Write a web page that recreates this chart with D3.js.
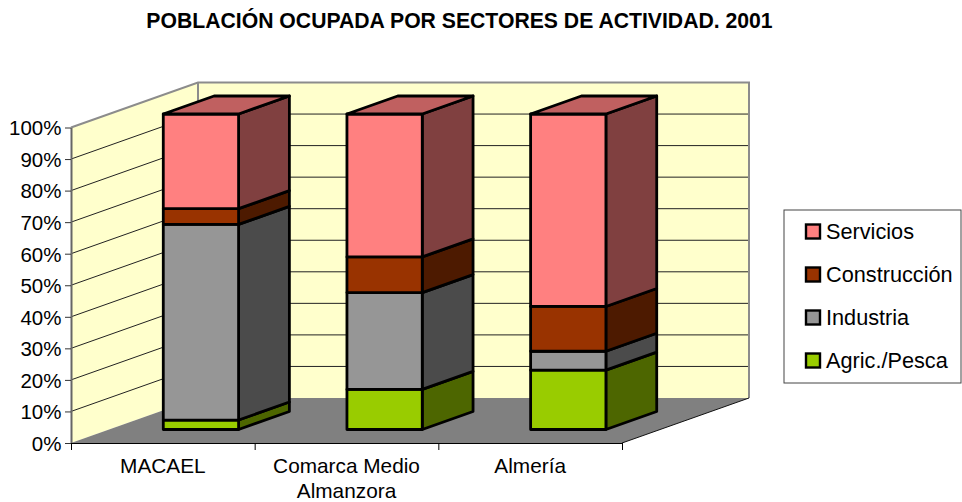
<!DOCTYPE html>
<html>
<head>
<meta charset="utf-8">
<script src="https://cdn.jsdelivr.net/npm/d3@7"></script>
<style>
body { margin: 0; background: #fff; }
text { font-family: "Liberation Sans", Arial, sans-serif; fill: #000; }
</style>
</head>
<body>
<script>
var categories = ["MACAEL", "Comarca Medio Almanzora", "Almería"];
var seriesNames = ["Agric./Pesca", "Industria", "Construcción", "Servicios"];
var agricPesca = [3, 12.7, 18.8];
var industria = [62, 30.7, 6];
var construccion = [5, 11.3, 14.2];
var servicios = [30, 45.3, 61];
var yTicks = [0, 10, 20, 30, 40, 50, 60, 70, 80, 90, 100];

var frontColors = ["#99cc00", "#969696", "#993300", "#ff8080"];
var sideColors = ["#4d6600", "#4b4b4b", "#4d1a00", "#804040"];
var topColor = "#c06060";

var w = 962, h = 502,
x0 = 71, x1 = 622, yBase = 443, yTop = 127.5,
depthX = 127, depthY = -45,
barFront = 0.3, barBack = 0.7;

var rows = categories.map(function(c, i) {
	return {cat: c, "Agric./Pesca": agricPesca[i], "Industria": industria[i], "Construcción": construccion[i], "Servicios": servicios[i]};
});
var stacked = d3.stack().keys(seriesNames)(rows);

var xSc = d3.scaleBand().domain(categories).range([x0, x1]).paddingInner(0.59).paddingOuter(0.295);
var xLine = d3.scaleLinear().domain([0, categories.length]).range([x0, x1]);
var ySc = d3.scaleLinear().domain([0, 100]).range([yBase, yTop]);

function pts(a) { return a.map(function(p) { return p.join(","); }).join(" "); }

var svg = d3.select("body").append("svg").attr("width", w).attr("height", h);

svg.append("text").attr("x", 459.5).attr("y", 27.5)
	.attr("text-anchor", "middle")
	.attr("font-weight", "bold")
	.attr("font-size", "21.2px")
	.text("POBLACIÓN OCUPADA POR SECTORES DE ACTIVIDAD. 2001");

// walls and floor
svg.append("polygon").attr("fill", "#ffffcc")
	.attr("points", pts([[x0, yBase], [x0, yTop], [x0 + depthX, yTop + depthY], [x0 + depthX, yBase + depthY]]));
svg.append("polygon").attr("fill", "#ffffcc")
	.attr("points", pts([[x0 + depthX, yTop + depthY], [x1 + depthX, yTop + depthY], [x1 + depthX, yBase + depthY], [x0 + depthX, yBase + depthY]]));
svg.append("polygon").attr("fill", "#808080")
	.attr("points", pts([[x0, yBase], [x0 + depthX, yBase + depthY], [x1 + depthX, yBase + depthY], [x1, yBase]]));

// gridlines
var grid = svg.append("g").attr("fill", "none").attr("stroke", "#222").attr("stroke-width", 1);
yTicks.slice(1, -1).forEach(function(t) {
	grid.append("polyline")
		.attr("points", pts([[x0, ySc(t)], [x0 + depthX, ySc(t) + depthY], [x1 + depthX, ySc(t) + depthY]]));
});

// wall border
svg.append("polyline").attr("fill", "none").attr("stroke", "#8c8c8c").attr("stroke-width", 2)
	.attr("points", pts([[x0, yTop], [x0 + depthX, yTop + depthY], [x1 + depthX, yTop + depthY], [x1 + depthX, yBase + depthY]]));
svg.append("line").attr("stroke", "#8c8c8c").attr("stroke-width", 2)
	.attr("x1", x0 + depthX).attr("x2", x0 + depthX)
	.attr("y1", yTop + depthY).attr("y2", yBase + depthY);
svg.append("line").attr("stroke", "#111").attr("stroke-width", 1)
	.attr("x1", x1).attr("y1", yBase).attr("x2", x1 + depthX).attr("y2", yBase + depthY);

// axes
var yAxis = d3.axisLeft(ySc).tickValues(yTicks).tickFormat(function(d) { return d + "%"; }).tickSize(6).tickSizeOuter(0);
var yG = svg.append("g").attr("transform", "translate(" + x0 + ",0)").call(yAxis);
yG.selectAll("text").attr("font-size", "20.5px").attr("x", -9.5).attr("dy", "0.36em").attr("font-family", "Liberation Sans");
yG.selectAll("line").attr("stroke", "#333");
yG.select(".domain").attr("stroke", "#666").attr("stroke-width", 2);

var tickAxis = d3.axisBottom(xLine).ticks(categories.length).tickFormat("").tickSize(7).tickSizeOuter(0);
svg.append("g").attr("transform", "translate(0," + yBase + ")").call(tickAxis);

var labelAxis = d3.axisBottom(xSc).tickSize(0);
var xLabels = svg.append("g").attr("transform", "translate(0," + yBase + ")").call(labelAxis);
xLabels.select(".domain").remove();
xLabels.selectAll("text").attr("font-size", "20.8px").attr("font-family", "Liberation Sans")
	.each(function(d) {
		var el = d3.select(this), words = d === "Comarca Medio Almanzora" ? ["Comarca Medio", "Almanzora"] : [d];
		el.text(null).attr("y", 0).attr("dy", null);
		words.forEach(function(s, i) {
			el.append("tspan").attr("x", 0).attr("y", 30 + i * 24.5).text(s);
		});
	});

// bars
var fz = {x: depthX * barFront, y: depthY * barFront},
bz = {x: depthX * barBack, y: depthY * barBack};

var bars = svg.append("g").attr("stroke", "#000").attr("stroke-width", 2.8).attr("stroke-linejoin", "round");

categories.forEach(function(cat, i) {
	var left = xSc(cat) + fz.x,
	right = left + xSc.bandwidth(),
	dx = bz.x - fz.x,
	dy = bz.y - fz.y;

	stacked.forEach(function(s, k) {
		var lo = ySc(s[i][0]) + fz.y,
		hi = ySc(s[i][1]) + fz.y;
		bars.append("polygon").attr("fill", sideColors[k])
			.attr("points", pts([[right, lo], [right + dx, lo + dy], [right + dx, hi + dy], [right, hi]]));
		bars.append("polygon").attr("fill", frontColors[k])
			.attr("points", pts([[left, lo], [right, lo], [right, hi], [left, hi]]));
	});
	var top = ySc(100) + fz.y;
	bars.append("polygon").attr("fill", topColor)
		.attr("points", pts([[left, top], [right, top], [right + dx, top + dy], [left + dx, top + dy]]));
});

// legend
var legend = svg.append("g");
legend.append("rect").attr("x", 784).attr("y", 210).attr("width", 177).attr("height", 173)
	.attr("fill", "#fff").attr("stroke", "#444").attr("stroke-width", 1);
seriesNames.slice().reverse().forEach(function(name, i) {
	var yRow = 231.5 + i * 43, k = seriesNames.indexOf(name);
	legend.append("rect").attr("x", 806).attr("y", yRow - 7).attr("width", 14).attr("height", 14)
		.attr("fill", frontColors[k]).attr("stroke", "#000").attr("stroke-width", 2.4);
	legend.append("text").attr("x", 826).attr("y", yRow + 7.5).attr("font-size", "21.7px").text(name);
});
</script>
</body>
</html>
